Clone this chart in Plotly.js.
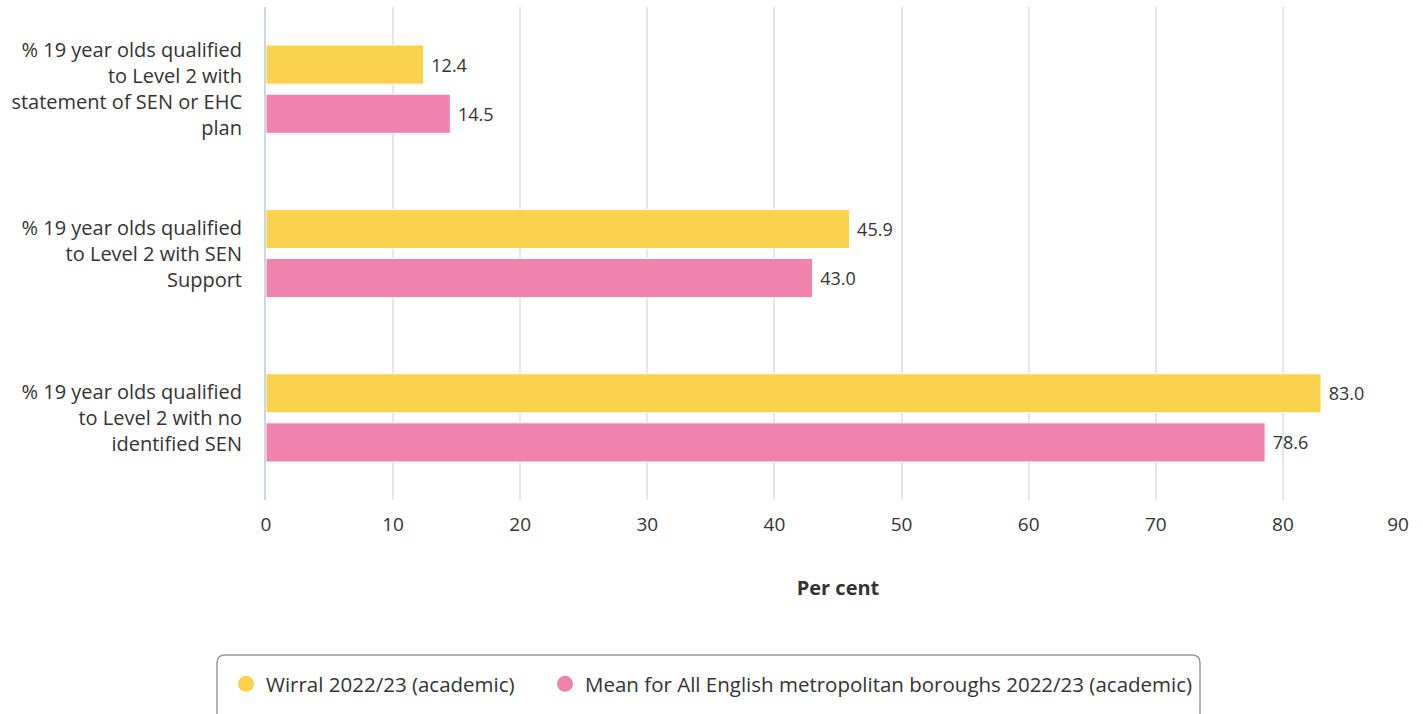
<!DOCTYPE html>
<html><head><meta charset="utf-8">
<script src="https://cdn.plot.ly/plotly-3.0.1.min.js"></script>
<style>html,body{margin:0;padding:0;background:#fff}#chart{width:1423px;height:714px}</style>
</head><body><div id="chart"></div>
<script>
const categories = [
  "% 19 year olds qualified<br>to Level 2 with<br>statement of SEN or EHC<br>plan",
  "% 19 year olds qualified<br>to Level 2 with SEN<br>Support",
  "% 19 year olds qualified<br>to Level 2 with no<br>identified SEN"
];
const seriesNames = ["Wirral 2022/23 (academic)", "Mean for All English metropolitan boroughs 2022/23 (academic)"];
const wirral = [12.4, 45.9, 83.0];
const meanMet = [14.5, 43.0, 78.6];
const colors = ["#FBD24E", "#EF83AD"];
const xTicks = [0,10,20,30,40,50,60,70,80,90];

const font = "Open Sans, Noto Sans, sans-serif";
function barTrace(vals, i){
  return {type:"bar", orientation:"h", y:categories, x:vals, name:seriesNames[i],
    marker:{color:colors[i], line:{color:"#ffffff", width:1}},
    text: vals.map(v=>"\u00a0"+v.toFixed(1)), textposition:"outside", cliponaxis:false,
    textfont:{size:18, color:"#333333", family:font},
    showlegend:false, hoverinfo:"x+name"};
}
function legTrace(i){
  return {type:"scatter", mode:"markers", x:[null], y:[null], name:seriesNames[i],
    marker:{color:colors[i], size:20, symbol:"circle"}, showlegend:true,
    legend: i === 0 ? "legend" : "legend2"};
}
// helper trace so the overlay axis (carrying the last tick label) is drawn
const edgeTrace = {type:"scatter", mode:"markers", x:[null], y:[null], xaxis:"x2", yaxis:"y", showlegend:false, hoverinfo:"skip"};
const data = [barTrace(wirral,0), barTrace(meanMet,1), legTrace(0), legTrace(1), edgeTrace];

// rounded legend frame (pixel geometry converted to paper coordinates)
const W = 1423, H = 714, mL = 266, mR = 13, mT = 7, mB = 214;
const pw = W - mL - mR, ph = H - mT - mB;
const px = v => (v - mL) / pw, py = v => (H - mB - v) / ph;
const bx0 = 217, bx1 = 1200, by0 = 655, by1 = 724, r = 8;
const framePath = `M ${px(bx0+r)} ${py(by0)} L ${px(bx1-r)} ${py(by0)} Q ${px(bx1)} ${py(by0)} ${px(bx1)} ${py(by0+r)} ` +
  `L ${px(bx1)} ${py(by1-r)} Q ${px(bx1)} ${py(by1)} ${px(bx1-r)} ${py(by1)} L ${px(bx0+r)} ${py(by1)} ` +
  `Q ${px(bx0)} ${py(by1)} ${px(bx0)} ${py(by1-r)} L ${px(bx0)} ${py(by0+r)} Q ${px(bx0)} ${py(by0)} ${px(bx0+r)} ${py(by0)} Z`;

const lastTick = xTicks[xTicks.length - 1];
const tickFont = {size:19, color:"#333333"};
const legFont = {size:20.5, color:"#333333"};

const layout = {
  width:W, height:H,
  margin:{l:mL, r:mR, t:mT, b:mB},
  paper_bgcolor:"#fff", plot_bgcolor:"#fff",
  font:{family:font, color:"#333333"},
  barmode:"group", bargap:0.402, bargroupgap:0.204,
  xaxis:{range:[0,90], tickvals:xTicks, ticktext:xTicks.map(t => t === lastTick ? "" : String(t)), showgrid:true, gridcolor:"#e6e6e6", gridwidth:2,
    zeroline:false, showline:false, tickfont:tickFont, ticks:"", ticklabelstandoff:11,
    title:{text:"<b>Per cent</b>", font:{size:20, color:"#333333"}, standoff:44}},
  xaxis2:{overlaying:"x", matches:"x", side:"bottom", range:[0,90], tickvals:[lastTick], ticktext:[String(lastTick)],
    showgrid:false, zeroline:false, showline:false, ticks:"", tickfont:tickFont, ticklabelstandoff:11, ticklabelshift:-12},
  yaxis:{type:"category", autorange:"reversed", showline:true, linecolor:"#ccd6eb", linewidth:2,
    showgrid:false, zeroline:false, ticks:"", tickfont:{size:20, color:"#333333"}, ticklabelstandoff:18},
  legend:{orientation:"h", x:px(226), xanchor:"left", y:py(684), yanchor:"middle",
    borderwidth:0, bgcolor:"rgba(0,0,0,0)", font:legFont, itemwidth:30},
  legend2:{orientation:"h", x:px(545), xanchor:"left", y:py(684), yanchor:"middle",
    borderwidth:0, bgcolor:"rgba(0,0,0,0)", font:legFont, itemwidth:30},
  shapes:[{type:"path", xref:"paper", yref:"paper", path:framePath, line:{color:"#999999", width:1.5}, fillcolor:"rgba(0,0,0,0)", layer:"below"}]
};
Plotly.newPlot("chart", data, layout, {displayModeBar:false, staticPlot:true});
</script></body></html>
